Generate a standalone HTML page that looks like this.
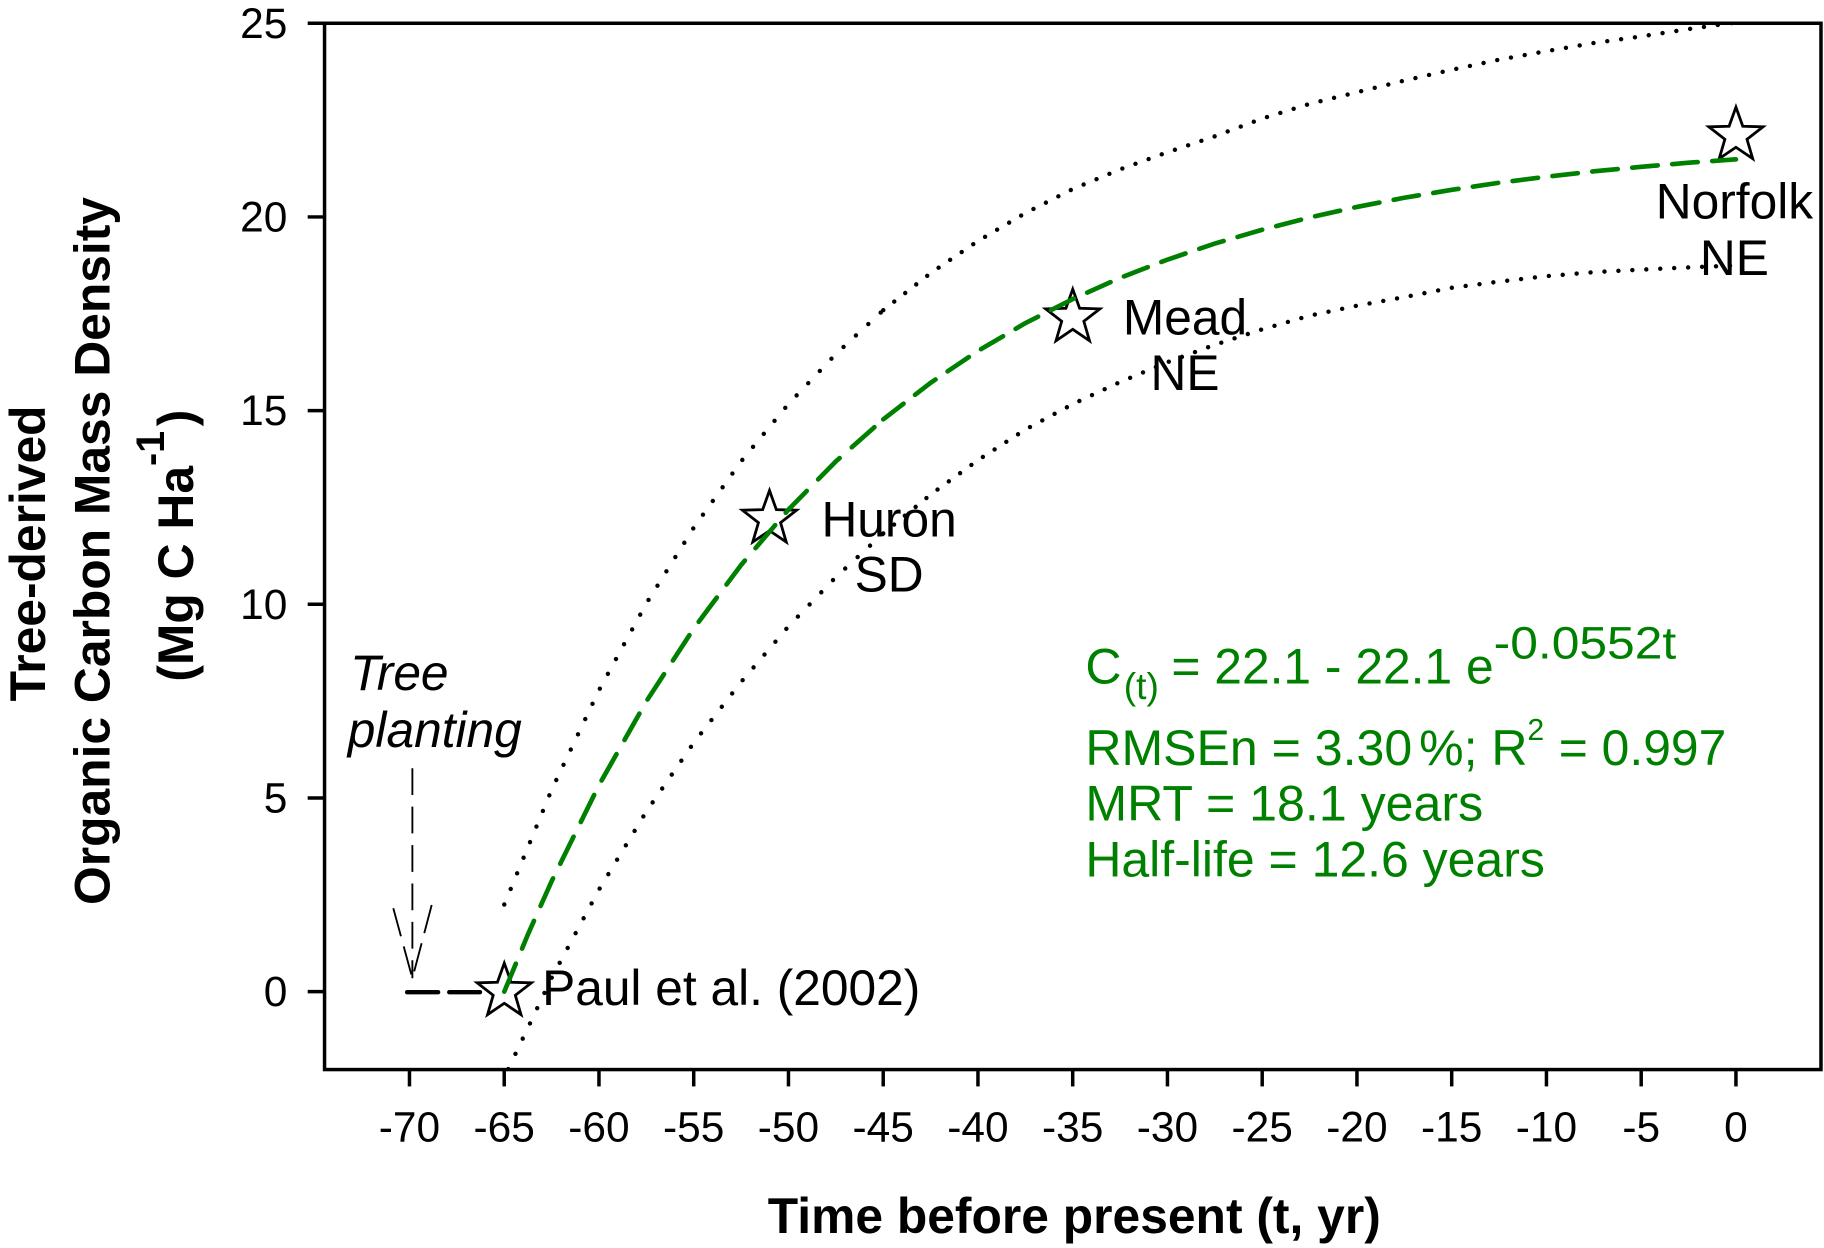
<!DOCTYPE html>
<html><head><meta charset="utf-8"><style>html,body{margin:0;padding:0;background:#fff;}svg{display:block;}</style></head>
<body>
<svg xmlns="http://www.w3.org/2000/svg" width="1824" height="1248" viewBox="0 0 1568 1072.9" preserveAspectRatio="none" font-family="'Liberation Sans', Arial, sans-serif">
<defs>
<clipPath id="c"><rect x="279" y="20" width="1286.4" height="899.5"/></clipPath>
<path id="st" d="M0,-24.5 L5.88,-8.09 L23.30,-7.57 L9.51,3.09 L14.40,19.82 L0,10 L-14.40,19.82 L-9.51,3.09 L-23.30,-7.57 L-5.88,-8.09 Z" fill="none" stroke="#000" stroke-width="2.4"/>
</defs>
<rect x="0" y="0" width="1568" height="1072.9" fill="#fff"/>
<!-- frame -->
<rect x="279" y="20" width="1286.4" height="899.5" fill="none" stroke="#000" stroke-width="3"/>
<!-- y ticks -->
<g stroke="#000" stroke-width="3">
<line x1="264.5" y1="20" x2="279" y2="20"/>
<line x1="264.5" y1="186.5" x2="279" y2="186.5"/>
<line x1="264.5" y1="353" x2="279" y2="353"/>
<line x1="264.5" y1="519.5" x2="279" y2="519.5"/>
<line x1="264.5" y1="686" x2="279" y2="686"/>
<line x1="264.5" y1="852.5" x2="279" y2="852.5"/>
</g>
<g font-size="36.5" text-anchor="end" fill="#000">
<text x="247" y="32.5">25</text>
<text x="247" y="199">20</text>
<text x="247" y="365.5">15</text>
<text x="247" y="532">10</text>
<text x="247" y="698.5">5</text>
<text x="247" y="865">0</text>
</g>
<!-- x ticks -->
<g stroke="#000" stroke-width="3">
<line x1="352" y1="919.5" x2="352" y2="934"/>
<line x1="433.45" y1="919.5" x2="433.45" y2="934"/>
<line x1="514.9" y1="919.5" x2="514.9" y2="934"/>
<line x1="596.35" y1="919.5" x2="596.35" y2="934"/>
<line x1="677.8" y1="919.5" x2="677.8" y2="934"/>
<line x1="759.25" y1="919.5" x2="759.25" y2="934"/>
<line x1="840.7" y1="919.5" x2="840.7" y2="934"/>
<line x1="922.15" y1="919.5" x2="922.15" y2="934"/>
<line x1="1003.6" y1="919.5" x2="1003.6" y2="934"/>
<line x1="1085.05" y1="919.5" x2="1085.05" y2="934"/>
<line x1="1166.5" y1="919.5" x2="1166.5" y2="934"/>
<line x1="1247.95" y1="919.5" x2="1247.95" y2="934"/>
<line x1="1329.4" y1="919.5" x2="1329.4" y2="934"/>
<line x1="1410.85" y1="919.5" x2="1410.85" y2="934"/>
<line x1="1492.3" y1="919.5" x2="1492.3" y2="934"/>
</g>
<g font-size="36.5" text-anchor="middle" fill="#000">
<text x="352" y="981.5">-70</text>
<text x="433.45" y="981.5">-65</text>
<text x="514.9" y="981.5">-60</text>
<text x="596.35" y="981.5">-55</text>
<text x="677.8" y="981.5">-50</text>
<text x="759.25" y="981.5">-45</text>
<text x="840.7" y="981.5">-40</text>
<text x="922.15" y="981.5">-35</text>
<text x="1003.6" y="981.5">-30</text>
<text x="1085.05" y="981.5">-25</text>
<text x="1166.5" y="981.5">-20</text>
<text x="1247.95" y="981.5">-15</text>
<text x="1329.4" y="981.5">-10</text>
<text x="1410.85" y="981.5">-5</text>
<text x="1492.3" y="981.5">0</text>
</g>
<!-- axis titles -->
<text x="923.5" y="1060" font-size="42.8" font-weight="bold" text-anchor="middle" fill="#000">Time before present (t, yr)</text>
<text transform="translate(38.5,603) rotate(-90)" font-size="42.8" font-weight="bold" fill="#000">Tree-derived</text>
<text transform="translate(94,778) rotate(-90)" font-size="42.8" font-weight="bold" fill="#000">Organic Carbon Mass Density</text>
<text transform="translate(166,586) rotate(-90)" font-size="42.8" font-weight="bold" fill="#000">(Mg C Ha<tspan font-size="34" dy="-25">-1</tspan><tspan dy="25" dx="4">)</tspan></text>
<!-- annotations -->
<g font-size="42.7" fill="#000">
<text x="301" y="593" font-style="italic">Tree</text>
<text x="299" y="642" font-style="italic">planting</text>
<text x="466" y="864">Paul et al. (2002)</text>
<text x="764.3" y="461.3" text-anchor="middle">Huron</text>
<text x="764.3" y="508.6" text-anchor="middle">SD</text>
<text x="1018.7" y="287.4" text-anchor="middle">Mead</text>
<text x="1018.7" y="335.3" text-anchor="middle">NE</text>
<text x="1491" y="187.7" text-anchor="middle">Norfolk</text>
<text x="1491" y="236.4" text-anchor="middle">NE</text>
</g>
<!-- green equation -->
<g fill="#008000">
<text x="933" y="587.4" font-size="43">C</text>
<text x="966" y="601" font-size="32">(t)</text>
<text x="1007" y="587.4" font-size="43" textLength="277" lengthAdjust="spacingAndGlyphs">= 22.1 - 22.1 e</text>
<text x="1284" y="566" font-size="39" textLength="157" lengthAdjust="spacingAndGlyphs">-0.0552t</text>
<text x="933" y="657.6" font-size="43" textLength="281" lengthAdjust="spacingAndGlyphs">RMSEn = 3.30</text>
<text x="1220" y="657.6" font-size="43">%; R</text>
<text x="1313" y="636" font-size="26">2</text>
<text x="1340" y="657.6" font-size="43" textLength="144" lengthAdjust="spacingAndGlyphs">= 0.997</text>
<text x="933" y="705.5" font-size="43" textLength="342" lengthAdjust="spacingAndGlyphs">MRT = 18.1 years</text>
<text x="933" y="753.6" font-size="43" textLength="395" lengthAdjust="spacingAndGlyphs">Half-life = 12.6 years</text>
</g>
<!-- tree planting arrow -->
<g stroke="#000" fill="none">
<line x1="354.5" y1="660.5" x2="354.5" y2="841" stroke-width="1.6" stroke-dasharray="23 10"/>
<line x1="338.1" y1="780.8" x2="354.5" y2="841" stroke-width="1.6" stroke-dasharray="25 9"/>
<line x1="371.1" y1="778" x2="354.5" y2="841" stroke-width="1.6" stroke-dasharray="25 9"/>
<line x1="350" y1="853" x2="376.6" y2="853" stroke-width="3.8" stroke-linecap="round"/>
<line x1="386.2" y1="853" x2="412.6" y2="853" stroke-width="3.8" stroke-linecap="round"/>
</g>
<!-- stars -->
<use href="#st" x="433.5" y="852.5"/>
<use href="#st" x="661.5" y="446.2"/>
<use href="#st" x="922.2" y="273.1"/>
<use href="#st" x="1492.3" y="116.6"/>
<!-- curves -->
<g clip-path="url(#c)" fill="none">
<polyline points="433.5,852.5 453.8,803.4 474.2,757.6 514.9,675.0 555.6,603.0 596.4,540.3 637.1,485.7 677.8,438.1 718.5,396.7 759.3,360.5" stroke="#008000" stroke-width="4" stroke-linecap="round" stroke-dasharray="26 14"/>
<polyline points="759.3,360.5 800.0,329.1 840.7,301.7 881.4,277.8 922.2,257.1 962.9,238.9 1003.6,223.2 1044.3,209.4 1085.1,197.5 1125.8,187.0 1166.5,177.9 1207.2,170.0 1248.0,163.2 1288.7,157.1 1329.4,151.9 1370.1,147.3 1410.9,143.4 1451.6,139.9 1492.3,137.0" stroke="#008000" stroke-width="4" stroke-linecap="round" stroke-dasharray="22 12.5"/>
<polyline points="433.5,777.6 474.2,679.0 514.9,593.4 555.6,518.8 596.4,453.6 637.1,396.6 677.8,347.3 718.5,304.4 759.3,266.7" stroke="#000" stroke-width="3.8" stroke-linecap="round" stroke-dasharray="0 14.5"/>
<polyline points="759.3,266.7 800.0,234.8 840.7,207.2 881.4,183.2 922.2,162.5 962.9,145.6 1003.6,130.9 1044.3,117.2 1085.1,101.9 1125.8,89.3 1166.5,79.3 1207.2,69.3 1248.0,60.0 1288.7,51.3 1329.4,44.0 1370.1,37.0 1410.9,31.3 1451.6,25.0 1492.3,19.3" stroke="#000" stroke-width="3.8" stroke-linecap="round" stroke-dasharray="0 12"/>
<polyline points="436.9,919.1 474.2,840.7 514.9,764.8 555.6,697.7 596.4,638.5 637.1,586.3 677.8,538.5 718.5,496.2 759.3,458.6" stroke="#000" stroke-width="3.8" stroke-linecap="round" stroke-dasharray="0 14.5"/>
<polyline points="759.3,458.6 800.0,425.2 840.7,395.6 881.4,369.3 922.2,347.4 962.9,328.4 1003.6,311.4 1044.3,296.4 1085.1,283.1 1125.8,271.4 1166.5,262.8 1207.2,255.4 1248.0,247.4 1288.7,242.1 1329.4,237.4 1370.1,234.0 1410.9,231.8 1451.6,229.9 1492.3,228.2" stroke="#000" stroke-width="3.8" stroke-linecap="round" stroke-dasharray="0 12"/>
</g>
</svg>
</body></html>
